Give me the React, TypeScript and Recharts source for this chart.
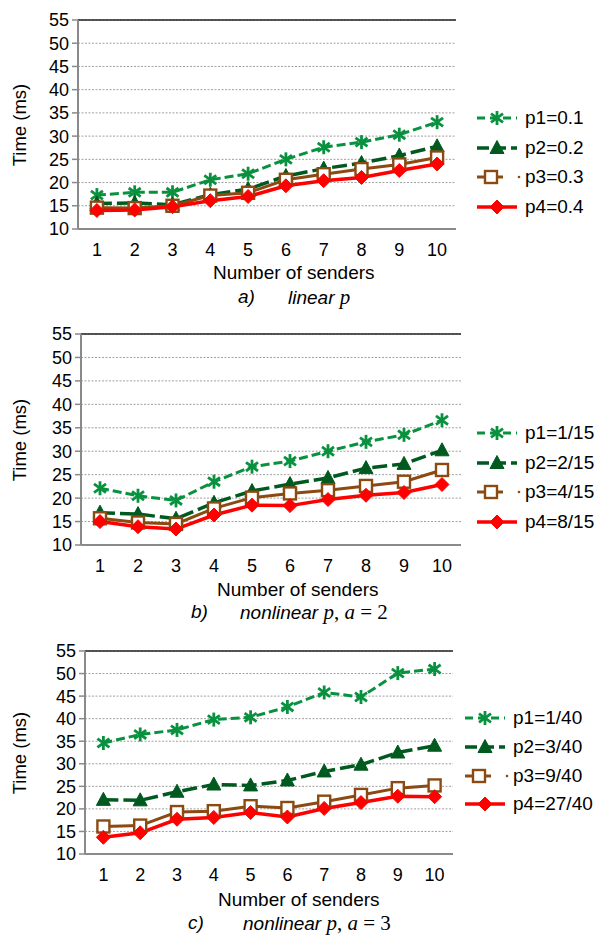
import React from 'react';
import { LineChart, Line, XAxis, YAxis, CartesianGrid, ReferenceLine } from 'recharts';

const senders = ['1', '2', '3', '4', '5', '6', '7', '8', '9', '10'];
const yTicks = [10, 15, 20, 25, 30, 35, 40, 45, 50, 55];

const aP1 = [17.3, 17.9, 17.9, 20.6, 21.9, 25.0, 27.6, 28.7, 30.3, 33.0];
const aP2 = [15.5, 15.6, 15.2, 17.4, 18.6, 21.4, 23.0, 24.2, 25.8, 27.8];
const aP3 = [14.6, 14.5, 15.0, 17.2, 17.8, 20.6, 21.8, 22.9, 23.9, 25.4];
const aP4 = [14.0, 14.1, 14.8, 16.1, 17.0, 19.3, 20.4, 21.1, 22.6, 24.0];
const aLabels = ['p1=0.1', 'p2=0.2', 'p3=0.3', 'p4=0.4'];

const bP1 = [22.1, 20.5, 19.5, 23.5, 26.7, 27.9, 30.0, 32.0, 33.5, 36.6];
const bP2 = [16.9, 16.6, 15.6, 19.0, 21.5, 23.0, 24.3, 26.4, 27.3, 30.2];
const bP3 = [15.7, 14.8, 14.5, 17.8, 20.1, 21.0, 21.7, 22.6, 23.5, 26.0];
const bP4 = [15.0, 13.9, 13.4, 16.4, 18.5, 18.4, 19.7, 20.6, 21.2, 22.9];
const bLabels = ['p1=1/15', 'p2=2/15', 'p3=4/15', 'p4=8/15'];

const cP1 = [34.6, 36.5, 37.5, 39.8, 40.3, 42.6, 45.8, 44.8, 50.1, 51.0];
const cP2 = [22.0, 21.9, 23.8, 25.4, 25.2, 26.3, 28.3, 29.8, 32.5, 34.0];
const cP3 = [16.1, 16.3, 19.3, 19.5, 20.6, 20.2, 21.6, 23.1, 24.6, 25.2];
const cP4 = [13.7, 14.7, 17.7, 18.1, 19.2, 18.2, 20.1, 21.4, 22.8, 22.7];
const cLabels = ['p1=1/40', 'p2=3/40', 'p3=9/40', 'p4=27/40'];

const FONT = '"Liberation Sans", Arial, sans-serif';
const MATH = '"Liberation Serif", "DejaVu Serif", serif';

const C1 = '#08913f';
const C2 = '#005a1f';
const C3 = '#8b4a12';
const C4 = '#ff0000';

const StarM = ({ cx, cy }: any) => (
  <g stroke={C1} strokeWidth={2.8} strokeLinecap="butt">
    <line x1={cx} y1={cy - 7} x2={cx} y2={cy + 7} />
    <line x1={cx - 6} y1={cy - 4.3} x2={cx + 6} y2={cy + 4.3} />
    <line x1={cx - 6} y1={cy + 4.3} x2={cx + 6} y2={cy - 4.3} />
  </g>
);
const TriM = ({ cx, cy }: any) => (
  <polygon points={`${cx},${cy - 7.5} ${cx + 7},${cy + 5.5} ${cx - 7},${cy + 5.5}`} fill={C2} stroke={C2} strokeWidth={1} />
);
const SqM = ({ cx, cy }: any) => (
  <rect x={cx - 6} y={cy - 6} width={12} height={12} fill="#fff" stroke={C3} strokeWidth={2.4} />
);
const DiaM = ({ cx, cy }: any) => (
  <polygon points={`${cx},${cy - 7} ${cx + 7},${cy} ${cx},${cy + 7} ${cx - 7},${cy}`} fill={C4} stroke={C4} strokeWidth={1} />
);

const seriesStyles = [
  { key: 'p1', color: C1, dash: '9 4', width: 3, M: StarM },
  { key: 'p2', color: C2, dash: '15 5', width: 3.5, M: TriM },
  { key: 'p3', color: C3, dash: undefined, width: 3, M: SqM },
  { key: 'p4', color: C4, dash: undefined, width: 3.5, M: DiaM },
];

type ChartProps = {
  top: number;
  height: number;
  plotTop: number;
  plotBottom: number;
  plotLeft: number;
  plotRight: number;
  series: number[][];
  labels: string[];
  legendX: number;
  legendY: number[];
  titleX: number;
  titleY: number;
  capLetter: string;
  capX: number;
  capWordX: number;
  capY: number;
  capWord: string;
  capMath: React.ReactNode;
};

function Panel(p: ChartProps) {
  const data = senders.map((s, i) => ({
    s,
    p1: p.series[0][i],
    p2: p.series[1][i],
    p3: p.series[2][i],
    p4: p.series[3][i],
  }));
  const W = 597;
  const xAxisH = 30;
  const band = (p.plotRight - p.plotLeft) / 20;
  return (
    <div style={{ position: 'absolute', left: 0, top: p.top, width: W, height: p.height, fontFamily: FONT }}>
      <LineChart
        width={W}
        height={p.height}
        data={data}
        margin={{ top: p.plotTop, right: W - p.plotRight, bottom: p.height - p.plotBottom - xAxisH, left: 0 }}
      >
        <CartesianGrid yAxisId="l" vertical={false} stroke="#a0a0a0" strokeDasharray="2 1.5" strokeWidth={1} />
        <XAxis
          dataKey="s"
          height={xAxisH}
          padding={{ left: band, right: band }}
          tickLine={false}
          tickSize={0}
          tickMargin={14}
          axisLine={{ stroke: '#8a8a8a', strokeWidth: 2 }}
          tick={{ fill: '#000', fontSize: 18, fontFamily: FONT }}
          interval={0}
        />
        <YAxis
          yAxisId="l"
          width={p.plotLeft}
          domain={[10, 55]}
          ticks={yTicks}
          interval={0}
          tickSize={6}
          tickMargin={3}
          tickLine={{ stroke: '#8a8a8a', strokeWidth: 1.5 }}
          axisLine={{ stroke: '#8a8a8a', strokeWidth: 2 }}
          tick={{ fill: '#000', fontSize: 18, fontFamily: FONT }}
        />
        <YAxis
          yAxisId="r"
          orientation="right"
          width={0}
          domain={[10, 55]}
          tick={false}
          tickLine={false}
          axisLine={{ stroke: '#222', strokeWidth: 1.5 }}
        />
        <ReferenceLine yAxisId="l" y={55} stroke="#222" strokeWidth={1.5} />
        {seriesStyles.map((st) => (
          <Line
            key={st.key}
            yAxisId="l"
            type="linear"
            dataKey={st.key}
            stroke={st.color}
            strokeWidth={st.width}
            strokeDasharray={st.dash}
            isAnimationActive={false}
            dot={(dp: any) => <st.M key={`${st.key}-${dp.index}`} cx={dp.cx} cy={dp.cy} />}
            activeDot={false}
          />
        ))}
      </LineChart>
      <div
        style={{
          position: 'absolute',
          left: 20,
          top: (p.plotTop + p.plotBottom) / 2,
          transform: 'translate(-50%, -50%) rotate(-90deg)',
          fontSize: 18.5,
          whiteSpace: 'nowrap',
          color: '#000',
        }}
      >
        Time (ms)
      </div>
      <div
        style={{
          position: 'absolute',
          left: p.titleX,
          top: p.titleY,
          transform: 'translateY(-50%)',
          fontSize: 19,
          whiteSpace: 'nowrap',
          color: '#000',
        }}
      >
        Number of senders
      </div>
      <div
        style={{
          position: 'absolute',
          left: p.capX,
          top: p.capY,
          transform: 'translateY(-50%)',
          fontSize: 19,
          fontStyle: 'italic',
          whiteSpace: 'nowrap',
          color: '#000',
        }}
      >
        {p.capLetter}
      </div>
      <div
        style={{
          position: 'absolute',
          left: p.capWordX,
          top: p.capY,
          transform: 'translateY(-50%)',
          fontSize: 19,
          fontStyle: 'italic',
          whiteSpace: 'nowrap',
          color: '#000',
        }}
      >
        {p.capWord}
        {p.capMath}
      </div>
      {seriesStyles.map((st, i) => (
        <div
          key={st.key}
          style={{
            position: 'absolute',
            left: p.legendX,
            top: p.legendY[i],
            transform: 'translateY(-50%)',
            display: 'flex',
            alignItems: 'center',
            height: 24,
          }}
        >
          <svg width={48} height={20} style={{ display: 'block' }}>
            {i === 2 ? (
              <>
                <line x1={0} y1={10} x2={26} y2={10} stroke={st.color} strokeWidth={st.width} />
                <st.M cx={14} cy={10} />
                <circle cx={42} cy={10} r={1.3} fill={st.color} />
              </>
            ) : (
              <>
                <line x1={0} y1={10} x2={40} y2={10} stroke={st.color} strokeWidth={st.width} strokeDasharray={i === 0 ? '8 5' : i === 1 ? '12 5' : undefined} />
                <st.M cx={20} cy={10} />
              </>
            )}
          </svg>
          <span style={{ fontSize: 19, color: '#000', whiteSpace: 'nowrap' }}>{p.labels[i]}</span>
        </div>
      ))}
    </div>
  );
}

const mathP = (
  <span style={{ fontFamily: MATH, fontSize: 21 }}>
    {' '}
    <i>p</i>
  </span>
);
const mathB = (
  <span style={{ fontFamily: MATH, fontSize: 21, fontStyle: 'normal' }}>
    {' '}
    <i>p</i>, <i>a</i> = 2
  </span>
);
const mathC = (
  <span style={{ fontFamily: MATH, fontSize: 21, fontStyle: 'normal' }}>
    {' '}
    <i>p</i>, <i>a</i> = 3
  </span>
);

export default function App() {
  return (
    <div style={{ position: 'absolute', left: 0, top: 0, width: 597, height: 936, background: '#fff' }}>
      <Panel
        top={0}
        height={310}
        plotTop={20}
        plotBottom={229}
        plotLeft={78}
        plotRight={456}
        series={[aP1, aP2, aP3, aP4]}
        labels={aLabels}
        legendX={477}
        legendY={[118, 148, 177, 207]}
        titleX={213}
        titleY={273}
        capLetter="a)"
        capX={238}
        capWordX={288}
        capY={297}
        capWord="linear"
        capMath={mathP}
      />
      <Panel
        top={310}
        height={315}
        plotTop={24}
        plotBottom={235}
        plotLeft={81}
        plotRight={461}
        series={[bP1, bP2, bP3, bP4]}
        labels={bLabels}
        legendX={477}
        legendY={[123, 153, 182, 212]}
        titleX={217}
        titleY={280}
        capLetter="b)"
        capX={191}
        capWordX={240}
        capY={302}
        capWord="nonlinear"
        capMath={mathB}
      />
      <Panel
        top={625}
        height={311}
        plotTop={26}
        plotBottom={229}
        plotLeft={85}
        plotRight={453}
        series={[cP1, cP2, cP3, cP4]}
        labels={cLabels}
        legendX={465}
        legendY={[93, 122, 151, 179]}
        titleX={218}
        titleY={275}
        capLetter="c)"
        capX={188}
        capWordX={243}
        capY={298}
        capWord="nonlinear"
        capMath={mathC}
      />
    </div>
  );
}
